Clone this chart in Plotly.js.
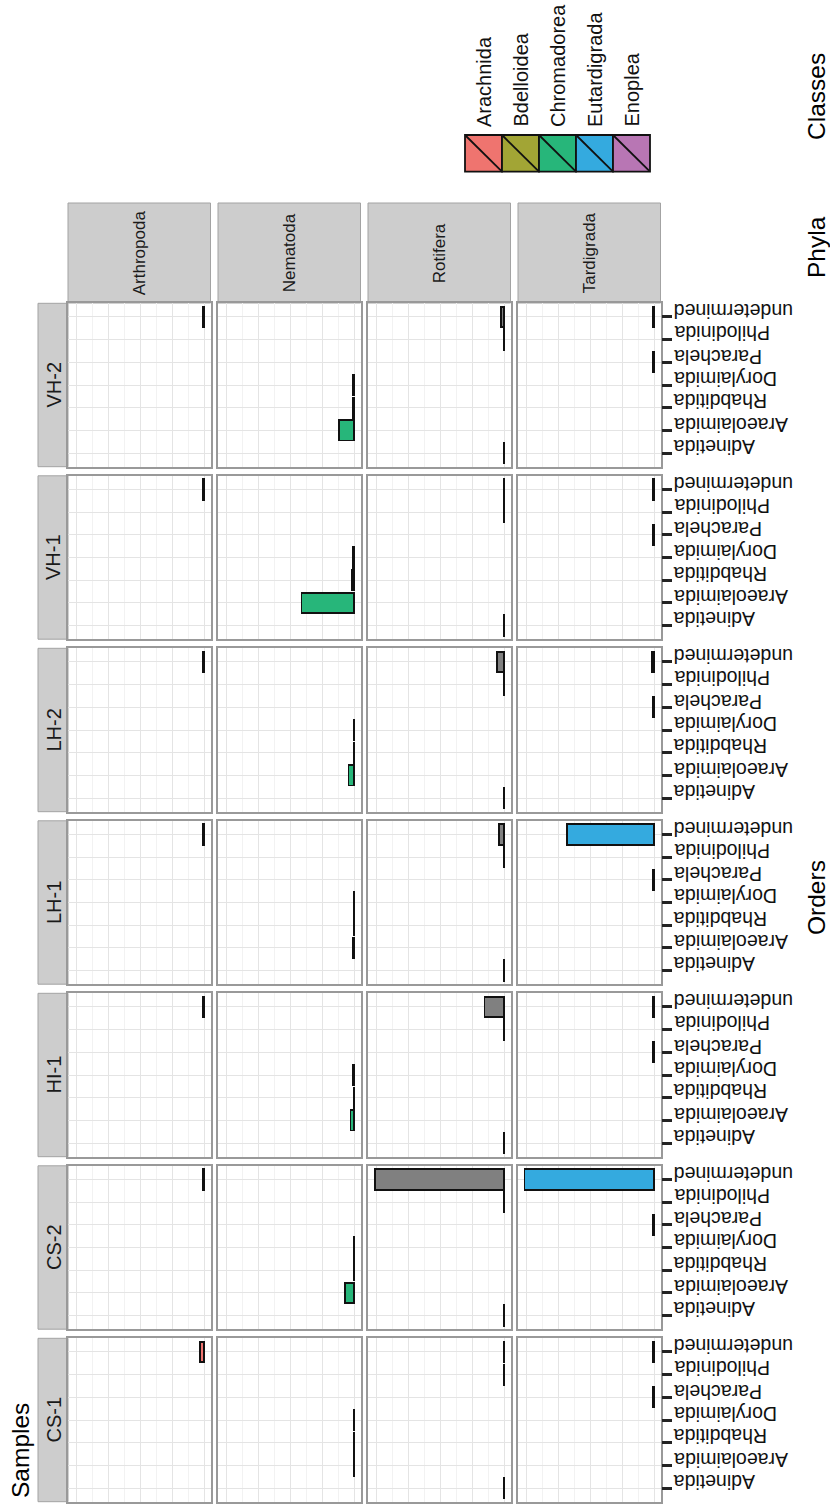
<!DOCTYPE html>
<html><head><meta charset="utf-8">
<script src="https://cdn.plot.ly/plotly-3.0.1.min.js"></script>
<style>html,body{margin:0;padding:0;background:#fff}#chart{width:830px;height:1505px}</style>
</head><body><div id="chart"></div>
<script>
// ---------- data ----------
const samples = ['VH-2','VH-1','LH-2','LH-1','HI-1','CS-2','CS-1'];
const phyla = ['Arthropoda','Nematoda','Rotifera','Tardigrada'];
const orders = ['Adinetida','Araeolaimida','Rhabditida','Dorylaimida','Parachela','Philodinida','undetermined'];
const classes = ['Arachnida','Bdelloidea','Chromadorea','Eutardigrada','Enoplea'];

// abundance per sample (same order as samples)
const arthropodaUndetermined = [0.3, 0.3, 0.3, 0.3, 0.3, 0.3, 1.2];
const nematodaAraeolaimida   = [4.8, 16.4, 1.7, 0.4, 1.1, 2.9, 0.15];
const nematodaRhabditida     = [0.3, 0.6, 0.15, 0.1, 0.1, 0.15, 0.1];
const nematodaDorylaimida    = [0.4, 0.3, 0.15, 0.1, 0.4, 0.15, 0.1];
const rotiferaUndetermined   = [0.9, 0.15, 2.2, 1.5, 6.1, 40.4, 0.15];
const rotiferaPhilodinida    = [0.1, 0.1, 0.1, 0.1, 0.1, 0.1, 0.1];
const rotiferaAdinetida      = [0.15, 0.15, 0.15, 0.15, 0.15, 0.15, 0.15];
const tardigradaParachela    = [0.4, 0.4, 0.3, 0.5, 0.5, 0.5, 0.4];
const tardigradaUndetermined = [0.4, 0.4, 0.6, 27.2, 0.3, 40.5, 0.4];

// table: phylum, order, class (null = not assigned), values
const table = [
  ['Arthropoda','undetermined','Arachnida', arthropodaUndetermined],
  ['Nematoda','Araeolaimida','Chromadorea', nematodaAraeolaimida],
  ['Nematoda','Rhabditida','Chromadorea', nematodaRhabditida],
  ['Nematoda','Dorylaimida','Enoplea', nematodaDorylaimida],
  ['Rotifera','undetermined', null, rotiferaUndetermined],
  ['Rotifera','Philodinida','Bdelloidea', rotiferaPhilodinida],
  ['Rotifera','Adinetida','Bdelloidea', rotiferaAdinetida],
  ['Tardigrada','Parachela','Eutardigrada', tardigradaParachela],
  ['Tardigrada','undetermined','Eutardigrada', tardigradaUndetermined]
];

// ---------- style ----------
const classColors = ['#EF746F','#A2A535','#27B67A','#34AADF','#B876B4'];
const naColor = '#808080';
const FONT = 'Liberation Sans, Arial, sans-serif';
const W = 830, H = 1505;
const px = v => v / W;
const py = v => 1 - v / H;
const colLeft0 = 68, colStep = 150, panelW = 142.5;
const rowTop0 = 303.3, rowStep = 172.5, panelH = 163.4;

const M = Math.max(...table.map(r => Math.max(...r[3])));

const traces = [];
const layout = {
  width: W, height: H,
  margin: {l:0, r:0, t:0, b:0},
  paper_bgcolor: '#fff', plot_bgcolor: '#fff',
  barmode: 'stack', bargap: 0.1,
  showlegend: false,
  shapes: [], annotations: []
};

samples.forEach((s, i) => {
  phyla.forEach((p, j) => {
    const k = i * phyla.length + j + 1;
    const xn = k === 1 ? 'x' : 'x' + k;
    const yn = k === 1 ? 'y' : 'y' + k;
    const L = colLeft0 + j * colStep;
    const T = rowTop0 + i * rowStep;
    layout[k === 1 ? 'xaxis' : 'xaxis' + k] = {
      domain: [px(L), px(L + panelW)], anchor: yn,
      range: [1.05 * M, -0.05 * M], tick0: 0, dtick: 10,
      showgrid: true, gridcolor: '#e4e4e4', gridwidth: 1.4,
      minor: {tick0: 0, dtick: 5, showgrid: true, gridcolor: '#f2f2f2', gridwidth: 1},
      showticklabels: false, ticks: '', zeroline: false,
      showline: true, mirror: true, linecolor: '#999999', linewidth: 1.5,
      fixedrange: true
    };
    layout[k === 1 ? 'yaxis' : 'yaxis' + k] = {
      domain: [py(T + panelH), py(T)], anchor: xn,
      type: 'category', categoryorder: 'array', categoryarray: orders,
      range: [-0.6, orders.length - 0.4],
      showgrid: true, gridcolor: '#e4e4e4', gridwidth: 1.4,
      showticklabels: false,
      ticks: j === phyla.length - 1 ? 'outside' : '',
      side: j === phyla.length - 1 ? 'right' : 'left',
      ticklen: 10, tickwidth: 2.6, tickcolor: '#222',
      zeroline: false, showline: true, mirror: true, linecolor: '#999999', linewidth: 1.5,
      fixedrange: true
    };
    // register every category on the axis
    traces.push({type: 'scatter', mode: 'markers', x: orders.map(() => 0), y: orders,
      xaxis: xn, yaxis: yn, marker: {opacity: 0, size: 1}, hoverinfo: 'skip'});
    // bars, one trace per class within the phylum
    const rows = table.filter(r => r[0] === p);
    const groups = [...new Set(rows.map(r => r[2]))];
    groups.forEach(c => {
      const rr = rows.filter(r => r[2] === c);
      traces.push({
        type: 'bar', orientation: 'h',
        y: rr.map(r => r[1]), x: rr.map(r => r[3][i]),
        xaxis: xn, yaxis: yn,
        marker: {color: c === null ? naColor : classColors[classes.indexOf(c)],
                 line: {color: '#111', width: 1.8}},
        hoverinfo: 'skip'
      });
    });
    // tick labels on the right of the last column
    if (j === phyla.length - 1) {
      orders.forEach(o => {
        layout.annotations.push({xref: 'paper', yref: yn, x: px(672), y: o,
          xanchor: 'left', yanchor: 'middle', yshift: 6, textangle: 180, showarrow: false,
          text: o, font: {family: FONT, size: 19.5, color: '#111'}});
      });
    }
  });
});

// phyla strips
phyla.forEach((p, j) => {
  const L = colLeft0 + j * colStep;
  layout.shapes.push({type: 'rect', xref: 'paper', yref: 'paper',
    x0: px(L), x1: px(L + panelW), y0: py(303), y1: py(203),
    fillcolor: '#cdcdcd', line: {color: '#a3a3a3', width: 1}, layer: 'below'});
  layout.annotations.push({xref: 'paper', yref: 'paper', x: px(L + panelW / 2), y: py(253),
    xanchor: 'center', yanchor: 'middle', textangle: -90, showarrow: false,
    text: p, font: {family: FONT, size: 17, color: '#1a1a1a'}});
});
// sample strips
samples.forEach((s, i) => {
  const T = rowTop0 + i * rowStep;
  layout.shapes.push({type: 'rect', xref: 'paper', yref: 'paper',
    x0: px(38), x1: px(68), y0: py(T + panelH), y1: py(T),
    fillcolor: '#cdcdcd', line: {color: '#a3a3a3', width: 1}, layer: 'below'});
  layout.annotations.push({xref: 'paper', yref: 'paper', x: px(53.5), y: py(T + panelH / 2),
    xanchor: 'center', yanchor: 'middle', textangle: -90, showarrow: false,
    text: s, font: {family: FONT, size: 20, color: '#1a1a1a'}});
});
// legend
const keyL = 465, keyW = 37, keyT = 135, keyB = 171.7;
classes.forEach((c, i) => {
  const x0 = keyL + i * keyW, x1 = x0 + keyW;
  layout.shapes.push({type: 'rect', xref: 'paper', yref: 'paper',
    x0: px(x0), x1: px(x1), y0: py(keyB), y1: py(keyT),
    fillcolor: classColors[i], line: {color: '#111', width: 1.8}});
  layout.shapes.push({type: 'line', xref: 'paper', yref: 'paper',
    x0: px(x0 + 1), x1: px(x1 - 1), y0: py(keyT + 1), y1: py(keyB - 1),
    line: {color: '#111', width: 1.8}});
  layout.annotations.push({xref: 'paper', yref: 'paper', x: px((x0 + x1) / 2), y: py(129),
    xanchor: 'center', yanchor: 'bottom', textangle: -90, showarrow: false,
    text: c, font: {family: FONT, size: 20, color: '#111'}});
});
// titles
const titles = [['Classes', 816, 97], ['Phyla', 816, 247], ['Orders', 817, 898], ['Samples', 20, 1451]];
titles.forEach(t => {
  layout.annotations.push({xref: 'paper', yref: 'paper', x: px(t[1]), y: py(t[2]),
    xanchor: 'center', yanchor: 'middle', textangle: -90, showarrow: false,
    text: t[0], font: {family: FONT, size: 24.5, color: '#000'}});
});

Plotly.newPlot('chart', traces, layout, {displayModeBar: false, responsive: false});
</script>
</body></html>
